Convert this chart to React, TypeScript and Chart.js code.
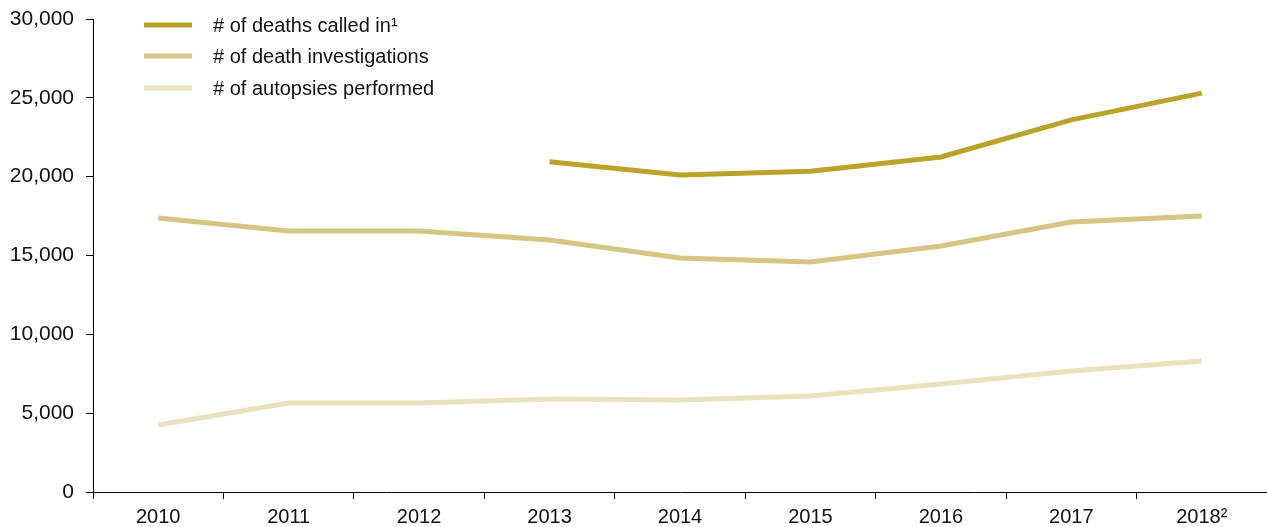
import React, { useEffect, useRef } from "react";
import { Chart, registerables } from "chart.js";

Chart.register(...registerables);

const years = ["2010", "2011", "2012", "2013", "2014", "2015", "2016", "2017", "2018²"];
const deathsCalledIn = [null, null, null, 20950, 20100, 20350, 21250, 23600, 25300];
const deathInvestigations = [17380, 16560, 16550, 15980, 14840, 14590, 15600, 17120, 17500];
const autopsiesPerformed = [4250, 5650, 5650, 5900, 5840, 6090, 6850, 7670, 8310];
const seriesLabels = ["# of deaths called in¹", "# of death investigations", "# of autopsies performed"];
const seriesColors = ["#B9A32A", "#D5C683", "#E9E2BF"];
const yTicks = [0, 5000, 10000, 15000, 20000, 25000, 30000];

const legendPlugin = {
  id: "customLegend",
  afterDraw(chart: any) {
    const ctx = chart.ctx;
    ctx.save();
    const rows = [25, 56, 88];
    chart.data.datasets.forEach((ds: any, i: number) => {
      const y = rows[i];
      ctx.strokeStyle = ds.borderColor;
      ctx.lineWidth = 5;
      ctx.beginPath();
      ctx.moveTo(144, y);
      ctx.lineTo(192, y);
      ctx.stroke();
      ctx.fillStyle = "#111";
      ctx.font = "20px 'Liberation Sans', Arial, sans-serif";
      ctx.textBaseline = "middle";
      ctx.textAlign = "left";
      ctx.fillText(ds.label, 213, y + 1);
    });
    ctx.restore();
  },
};

export default function App() {
  const ref = useRef<HTMLCanvasElement>(null);
  useEffect(() => {
    document.body.style.margin = "0";
    const chart = new Chart(ref.current!, {
      type: "line",
      data: {
        labels: years,
        datasets: [
          { label: seriesLabels[0], data: deathsCalledIn, borderColor: seriesColors[0], backgroundColor: seriesColors[0] },
          { label: seriesLabels[1], data: deathInvestigations, borderColor: seriesColors[1], backgroundColor: seriesColors[1] },
          { label: seriesLabels[2], data: autopsiesPerformed, borderColor: seriesColors[2], backgroundColor: seriesColors[2] },
        ].map((d) => ({ ...d, borderWidth: 5, pointRadius: 0, tension: 0, spanGaps: false })),
      },
      options: {
        animation: false,
        responsive: false,
        layout: { padding: { top: 19, right: -4, left: 0, bottom: 0 } },
        plugins: { legend: { display: false }, tooltip: { enabled: false } },
        scales: {
          x: {
            offset: true,
            grid: { offset: true, drawOnChartArea: false, drawTicks: true, tickLength: 7, color: "#000" },
            border: { color: "#000", width: 1 },
            ticks: {
              color: "#111",
              font: { size: 20, family: "'Liberation Sans', Arial, sans-serif" },
              padding: 6,
              maxRotation: 0,
              autoSkip: false,
            },
            afterFit(scale: any) {
              scale.height = 35;
              scale.paddingLeft = 0;
              scale.paddingRight = 0;
            },
          },
          y: {
            min: 0,
            max: 30000,
            afterBuildTicks(scale: any) {
              scale.ticks = yTicks.map((v) => ({ value: v }));
            },
            grid: { drawOnChartArea: false, drawTicks: true, tickLength: 7, color: "#000" },
            border: { color: "#000", width: 1 },
            ticks: {
              color: "#111",
              font: { size: 21, family: "'Liberation Sans', Arial, sans-serif" },
              padding: 12,
              callback: (v: any) => Number(v).toLocaleString("en-US"),
            },
            afterFit(scale: any) {
              scale.width = 93;
              scale.paddingTop = 0;
              scale.paddingBottom = 0;
            },
          },
        },
      },
      plugins: [legendPlugin],
    });
    return () => chart.destroy();
  }, []);
  return (
    <div style={{ width: 1267, height: 527 }}>
      <canvas ref={ref} width={1267} height={527} style={{ display: "block" }} />
    </div>
  );
}
